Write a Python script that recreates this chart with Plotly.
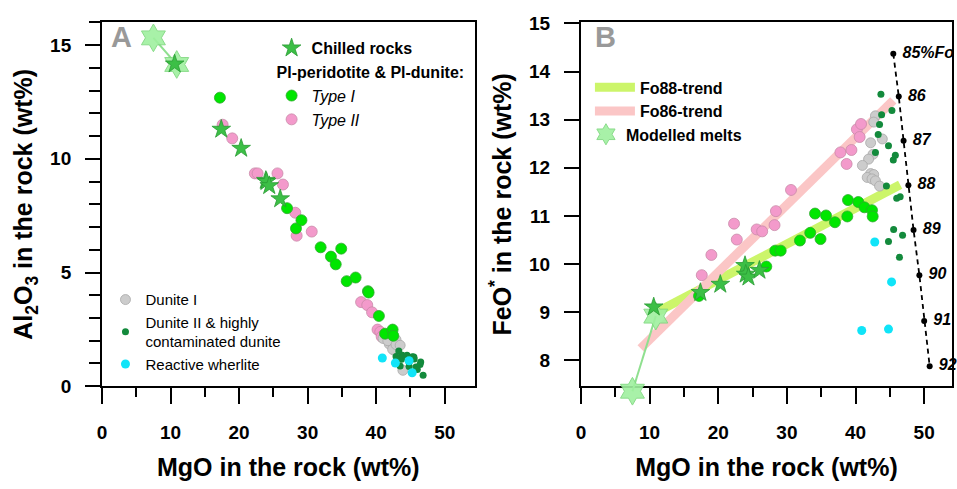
import plotly.graph_objects as go

# ---------------- data ----------------
modelled_mgo = [7.5, 10.9]
modelled_al2o3 = [15.32, 14.15]
modelled_feo = [7.36, 8.92]

chilled_mgo = [10.6, 17.4, 20.3, 23.9, 24.0, 24.4, 26.0]
chilled_al2o3 = [14.17, 11.30, 10.46, 9.05, 9.00, 8.82, 8.24]
chilled_feo = [9.11, 9.41, 9.58, 9.97, 9.79, 9.73, 9.87]

type1_mgo = [17.2, 27.0, 28.3, 29.1, 31.9, 33.4, 34.9, 34.1, 35.7, 37.0, 38.8, 38.9, 40.4, 41.3, 42.4, 42.5]
type1_al2o3 = [12.69, 7.83, 6.94, 7.30, 6.11, 5.70, 6.05, 5.36, 4.62, 4.78, 4.18, 4.12, 3.09, 2.31, 2.49, 2.22]
type1_feo = [9.34, 9.95, 10.28, 10.28, 10.49, 10.65, 10.52, 11.05, 11.01, 10.87, 10.99, 11.33, 11.29, 11.18, 11.12, 10.99]

type2_mgo = [17.6, 19.0, 22.3, 22.7, 25.6, 26.4, 28.2, 28.4, 30.6, 37.8, 38.7, 39.4, 40.2, 40.6, 40.8]
type2_al2o3 = [11.5, 10.9, 9.36, 9.36, 9.36, 8.87, 7.63, 6.62, 6.80, 3.70, 3.57, 3.25, 2.49, 2.39, 2.18]
type2_feo = [9.77, 10.19, 10.84, 10.51, 10.72, 10.68, 10.81, 11.10, 11.54, 12.32, 12.08, 12.37, 12.80, 12.64, 12.91]

dunite1_mgo = [42.9, 42.65, 42.2, 43.9, 42.55, 41.9, 41.0, 42.2, 42.65, 41.7, 42.4, 42.9, 43.5]
dunite1_al2o3 = [2.04, 1.76, 1.90, 0.70, 1.69, 1.86, 2.10, 1.95, 1.58, 2.00, 1.62, 1.83, 1.80]
dunite1_feo = [13.08, 12.95, 12.52, 12.60, 12.28, 12.18, 12.05, 11.88, 11.86, 11.80, 11.77, 11.73, 11.62]

dunite2_mgo = [43.7, 45.3, 43.8, 43.5, 43.3, 44.8, 42.9, 45.8, 45.5, 44.5, 46.0, 46.5, 45.55, 46.85, 44.8, 46.4]
dunite2_al2o3 = [1.19, 1.30, 1.36, 0.89, 1.55, 0.87, 1.31, 0.84, 1.29, 1.36, 0.73, 1.06, 1.20, 0.48, 1.05, 0.95]
dunite2_feo = [13.53, 13.19, 13.10, 12.90, 12.69, 12.46, 12.32, 12.26, 12.16, 11.62, 11.37, 11.40, 10.72, 10.60, 10.47, 10.14]

wherlite_mgo = [40.9, 42.8, 44.8, 45.25]
wherlite_al2o3 = [1.24, 1.02, 1.12, 0.59]
wherlite_feo = [8.62, 10.46, 8.65, 9.63]

fo_mgo = [45.5, 46.3, 47.0, 47.7, 48.45, 49.3, 50.0, 50.8]
fo_feo = [14.37, 13.48, 12.56, 11.64, 10.71, 9.77, 8.82, 7.88]
fo_labels = ["85%Fo", "86", "87", "88", "89", "90", "91", "92"]

fo88_trend_mgo = [11.0, 46.5]
fo88_trend_feo = [9.0, 11.65]
fo86_trend_mgo = [8.7, 45.5]
fo86_trend_feo = [8.25, 13.4]

x_ticks = [0, 10, 20, 30, 40, 50]

# ---------------- styles ----------------
FONT = "Liberation Sans, Arial, sans-serif"
C_TYPE1 = "#00e600"
C_TYPE2 = "#f39acb"
C_GRAY = "#cccccc"
C_DGREEN = "#138a3c"
C_CYAN = "#10e4f8"
C_CHILL = "#3cbf46"
C_MELT = "#9ff09f"

W, H = 957, 489
YDOM = [0.1957, 0.9714]
XA_DOM = [0.1019, 0.4932]
XB_DOM = [0.6050, 0.9948]
XA_RANGE = [0, 54.35]
XB_RANGE = [0, 54.06]
YA_RANGE = [0, 16]
YB_RANGE = [7.464, 15.02]

# helper overlay for panel B that extends below the frame with identical scale
EXT_PX = 32
b_px_per_unit = (YDOM[1] - YDOM[0]) * H / (YB_RANGE[1] - YB_RANGE[0])
Y3_DOM = [YDOM[0] - EXT_PX / H, YDOM[1]]
Y3_RANGE = [YB_RANGE[0] - EXT_PX / b_px_per_unit, YB_RANGE[1]]

fig = go.Figure()
AX = {"A": ("x", "y"), "B": ("x2", "y2"), "B3": ("x3", "y3")}


def add(trace, panel):
    xa, ya = AX[panel]
    trace.update(xaxis=xa, yaxis=ya)
    fig.add_trace(trace)


# ---- panel B trend lines (drawn first) ----
add(go.Scatter(x=fo88_trend_mgo, y=fo88_trend_feo, mode="lines", name="Fo88-trend",
               line=dict(color="#ccf56a", width=9), legend="legend3", legendrank=1), "B")
add(go.Scatter(x=fo86_trend_mgo, y=fo86_trend_feo, mode="lines", name="Fo86-trend",
               line=dict(color="#fbc6c6", width=9), legend="legend3", legendrank=2), "B")

# ---- point series for both panels ----
for panel in ("A", "B"):
    first = panel == "A"
    top = "A" if first else "B3"
    d = {
        "type2": type2_al2o3 if first else type2_feo,
        "dun1": dunite1_al2o3 if first else dunite1_feo,
        "type1": type1_al2o3 if first else type1_feo,
        "dun2": dunite2_al2o3 if first else dunite2_feo,
        "wher": wherlite_al2o3 if first else wherlite_feo,
        "chill": chilled_al2o3 if first else chilled_feo,
        "melt": modelled_al2o3 if first else modelled_feo,
    }
    t1 = go.Scatter(x=type1_mgo, y=d["type1"], mode="markers", name="<i>Type I</i>",
                    marker=dict(size=11, color=C_TYPE1, line=dict(color="#2ea82e", width=0.8)),
                    legend="legend", legendgroup="pl", legendrank=3, showlegend=first)
    if first:
        t1.update(legendgrouptitle=dict(text="Pl-peridotite & Pl-dunite:",
                                        font=dict(size=16, family=FONT, weight="bold", color="black")))
    add(go.Scatter(x=type2_mgo, y=d["type2"], mode="markers", name="<i>Type II</i>",
                   marker=dict(size=11, color=C_TYPE2, line=dict(color="#c98aa8", width=0.8)),
                   legend="legend", legendgroup="pl", legendrank=4, showlegend=first), panel)
    add(go.Scatter(x=dunite1_mgo, y=d["dun1"], mode="markers", name="Dunite I",
                   marker=dict(size=10, color=C_GRAY, line=dict(color="#a8a8a8", width=0.8)),
                   legend="legend2", legendrank=1, showlegend=first), panel)
    add(t1, panel)
    add(go.Scatter(x=dunite2_mgo, y=d["dun2"], mode="markers",
                   name="Dunite II & highly<br>contaminated dunite",
                   marker=dict(size=7, color=C_DGREEN),
                   legend="legend2", legendrank=2, showlegend=first), panel)
    add(go.Scatter(x=wherlite_mgo, y=d["wher"], mode="markers", name="Reactive wherlite",
                   marker=dict(size=9, color=C_CYAN),
                   legend="legend2", legendrank=3, showlegend=first), panel)
    add(go.Scatter(x=modelled_mgo, y=d["melt"], mode="lines", showlegend=False,
                   line=dict(color="#8fe08f", width=2), cliponaxis=False), top)
    add(go.Scatter(x=modelled_mgo, y=d["melt"], mode="markers", name="Modelled melts",
                   marker=dict(symbol="hexagram", size=21, color=C_MELT, opacity=0.9,
                               line=dict(color="#7fd87f", width=1)),
                   legend="legend4", showlegend=not first, cliponaxis=False), top)
    add(go.Scatter(x=chilled_mgo, y=d["chill"], mode="markers", name="<b>Chilled rocks</b>",
                   marker=dict(symbol="star", size=14, color=C_CHILL, line=dict(color="#2a9a34", width=0.8)),
                   legend="legend", legendrank=1, showlegend=first), top)

# ---- Fo isopleth ----
add(go.Scatter(x=fo_mgo, y=fo_feo, mode="lines+markers+text", text=fo_labels,
               texttemplate="\u00a0%{text}", textposition="middle right", showlegend=False,
               cliponaxis=False,
               textfont=dict(size=16, family=FONT, weight="bold", style="italic", color="black"),
               line=dict(color="black", width=1.8, dash="5px,4px"),
               marker=dict(size=6, color="black")), "B3")

# ---------------- axes ----------------
tickfont = dict(size=19, family=FONT, weight="bold", color="black")
titlefont = dict(size=25, family=FONT, weight="bold", color="black")
common = dict(showline=True, linecolor="black", linewidth=2, mirror=True, showgrid=False,
              zeroline=False, ticks="outside", tickcolor="black", tickwidth=2, tickfont=tickfont)
minor_x = dict(dtick=5, ticklen=9, ticks="outside", tickcolor="black", tickwidth=2)
hidden = dict(visible=False, showgrid=False, zeroline=False, fixedrange=True)
fig.update_layout(
    xaxis=dict(common, domain=XA_DOM, range=XA_RANGE, tickvals=x_ticks, ticklen=16,
               ticklabelstandoff=12, minor=minor_x,
               title=dict(text="MgO in the rock (wt%)", font=titlefont, standoff=16), anchor="y"),
    yaxis=dict(common, domain=YDOM, range=YA_RANGE, dtick=5, ticklen=15, ticklabelstandoff=10,
               minor=dict(dtick=1, ticklen=11, ticks="outside", tickcolor="black", tickwidth=2),
               title=dict(text="Al<sub>2</sub>O<sub>3</sub> in the rock (wt%)", font=titlefont, standoff=10),
               anchor="x"),
    xaxis2=dict(common, domain=XB_DOM, range=XB_RANGE, tickvals=x_ticks, ticklen=16,
                ticklabelstandoff=12, minor=minor_x,
                title=dict(text="MgO in the rock (wt%)", font=titlefont, standoff=16), anchor="y2"),
    yaxis2=dict(common, domain=YDOM, range=YB_RANGE, dtick=1, ticklen=15, ticklabelstandoff=10,
                title=dict(text="FeO<sup>*</sup> in the rock (wt%)", font=titlefont, standoff=10),
                anchor="x2"),
    xaxis3=dict(hidden, domain=XB_DOM, range=XB_RANGE, anchor="y3"),
    yaxis3=dict(hidden, domain=Y3_DOM, range=Y3_RANGE, anchor="x3"),
)

legend_common = dict(bgcolor="rgba(0,0,0,0)", borderwidth=0, xanchor="left", yanchor="top",
                     itemsizing="trace", tracegroupgap=0)
fig.update_layout(
    legend=dict(legend_common, x=268 / W, y=1 - 23 / H, traceorder="grouped",
                font=dict(size=16, family=FONT, color="black")),
    legend2=dict(legend_common, x=101 / W, y=1 - 286 / H,
                 font=dict(size=15, family=FONT, color="black")),
    legend3=dict(legend_common, x=588 / W, y=1 - 64 / H, itemwidth=40,
                 font=dict(size=16, family=FONT, weight="bold", color="black")),
    legend4=dict(legend_common, x=584 / W, y=1 - 113 / H,
                 font=dict(size=16, family=FONT, weight="bold", color="black")),
)

# panel letters
for label, xpx in (("A", 117), ("B", 604)):
    fig.add_annotation(text=label, x=xpx / W, y=1 - 29 / H, xref="paper", yref="paper",
                       showarrow=False, xanchor="center", yanchor="middle",
                       font=dict(size=29, family=FONT, weight="bold", color="#999999"))

fig.update_layout(width=W, height=H, margin=dict(l=0, r=0, t=0, b=0),
                  paper_bgcolor="white", plot_bgcolor="rgba(0,0,0,0)", showlegend=True,
                  font=dict(family=FONT, color="black"))

fig.write_html("out.html")
